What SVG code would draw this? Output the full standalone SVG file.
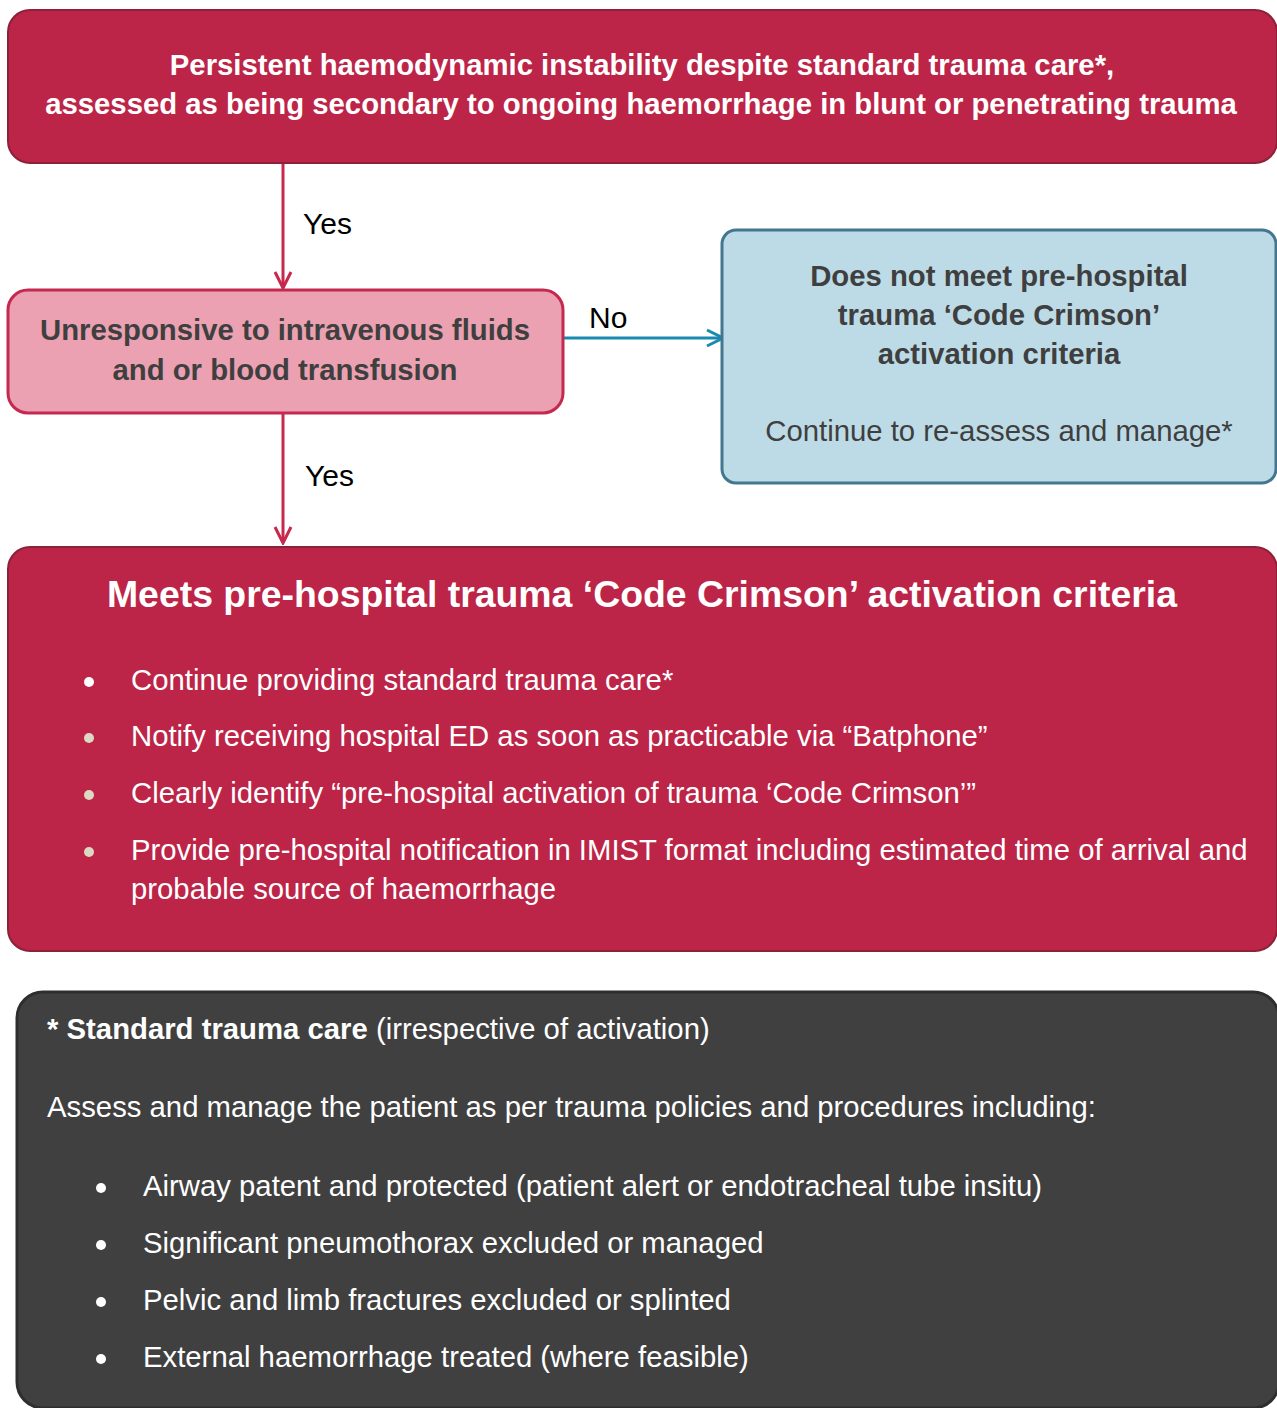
<svg xmlns="http://www.w3.org/2000/svg" width="1277" height="1408" viewBox="0 0 1277 1408">
  <defs>
    <style>
      .t { font-family: "Liberation Sans", Arial, sans-serif; font-size: 29.3px; }
      .b { font-weight: bold; }
      .red { fill: #BC2547; stroke: #8C2139; stroke-width: 2; }
      .pink { fill: #EBA1B1; stroke: #C42A50; stroke-width: 3; }
      .blue { fill: #BDDBE6; stroke: #44778F; stroke-width: 3; }
      .dark { fill: #404040; stroke: #2E2E2E; stroke-width: 3; }
      .w { fill: #FFFFFF; }
      .g { fill: #3F3F3F; }
      .k { fill: #000000; font-size: 30px; }
      .lnr { stroke: #C8284E; stroke-width: 3; fill: none; }
      .lnb { stroke: #1A8AB0; stroke-width: 3; fill: none; }
    </style>
    <marker id="arrR" viewBox="0 0 20 20" refX="18" refY="10" markerWidth="20" markerHeight="20" markerUnits="userSpaceOnUse" orient="auto">
      <path d="M2,2 L18,10 L2,18" fill="none" stroke="#C8284E" stroke-width="3"/>
    </marker>
    <marker id="arrB" viewBox="0 0 20 20" refX="18" refY="10" markerWidth="20" markerHeight="20" markerUnits="userSpaceOnUse" orient="auto">
      <path d="M2,2 L18,10 L2,18" fill="none" stroke="#1A8AB0" stroke-width="3"/>
    </marker>
  </defs>

  <rect width="1277" height="1408" fill="#FFFFFF"/>

  <!-- connectors -->
  <g id="connectors">
    <line class="lnr" x1="283" y1="164" x2="283" y2="288" marker-end="url(#arrR)"/>
    <line class="lnb" x1="564" y1="338" x2="723" y2="338" marker-end="url(#arrB)"/>
    <line class="lnr" x1="283" y1="414" x2="283" y2="543" marker-end="url(#arrR)"/>
    <text class="t k" x="303" y="234">Yes</text>
    <text class="t k" x="589" y="328">No</text>
    <text class="t k" x="305" y="486">Yes</text>
  </g>

  <!-- entry condition -->
  <g id="instability">
    <rect class="red" x="8" y="10" width="1269" height="153" rx="22"/>
    <text class="t b w" x="642" y="75" text-anchor="middle">Persistent haemodynamic instability despite standard trauma care*,</text>
    <text class="t b w" x="641" y="114" text-anchor="middle">assessed as being secondary to ongoing haemorrhage in blunt or penetrating trauma</text>
  </g>

  <!-- fluid response check -->
  <g id="unresponsive">
    <rect class="pink" x="8" y="290" width="555" height="123" rx="20"/>
    <text class="t b g" x="285" y="340" text-anchor="middle">Unresponsive to intravenous fluids</text>
    <text class="t b g" x="285" y="380" text-anchor="middle">and or blood transfusion</text>
  </g>

  <!-- not meeting criteria -->
  <g id="not-met">
    <rect class="blue" x="722" y="230" width="554" height="253" rx="14"/>
    <text class="t b g" x="999" y="286" text-anchor="middle">Does not meet pre-hospital</text>
    <text class="t b g" x="999" y="325" text-anchor="middle">trauma ‘Code Crimson’</text>
    <text class="t b g" x="999" y="364" text-anchor="middle">activation criteria</text>
    <text class="t g" x="999" y="441" text-anchor="middle">Continue to re-assess and manage*</text>
  </g>

  <!-- meeting criteria -->
  <g id="met">
    <rect class="red" x="8" y="547" width="1269" height="404" rx="22"/>
    <text class="t b w" x="642" y="607" text-anchor="middle" style="font-size:37.4px">Meets pre-hospital trauma ‘Code Crimson’ activation criteria</text>
    <circle cx="89" cy="682" r="5" fill="#FFFFFF"/>
    <circle cx="89" cy="738" r="5" fill="#DDD8C4"/>
    <circle cx="89" cy="795" r="5" fill="#DDD8C4"/>
    <circle cx="89" cy="852" r="5" fill="#DDD8C4"/>
    <text class="t w" x="131" y="690">Continue providing standard trauma care*</text>
    <text class="t w" x="131" y="746">Notify receiving hospital ED as soon as practicable via “Batphone”</text>
    <text class="t w" x="131" y="803">Clearly identify “pre-hospital activation of trauma ‘Code Crimson’”</text>
    <text class="t w" x="131" y="860">Provide pre-hospital notification in IMIST format including estimated time of arrival and</text>
    <text class="t w" x="131" y="899">probable source of haemorrhage</text>
  </g>

  <!-- standard trauma care note -->
  <g id="standard-care">
    <rect class="dark" x="17" y="992" width="1262" height="416" rx="26"/>
    <text class="t w" x="47" y="1039"><tspan class="b">* Standard trauma care</tspan> (irrespective of activation)</text>
    <text class="t w" x="47" y="1117">Assess and manage the patient as per trauma policies and procedures including:</text>
    <circle cx="101" cy="1188" r="5" fill="#FFFFFF"/>
    <circle cx="101" cy="1245" r="5" fill="#FFFFFF"/>
    <circle cx="101" cy="1302" r="5" fill="#FFFFFF"/>
    <circle cx="101" cy="1359" r="5" fill="#FFFFFF"/>
    <text class="t w" x="143" y="1196">Airway patent and protected (patient alert or endotracheal tube insitu)</text>
    <text class="t w" x="143" y="1253">Significant pneumothorax excluded or managed</text>
    <text class="t w" x="143" y="1310">Pelvic and limb fractures excluded or splinted</text>
    <text class="t w" x="143" y="1367">External haemorrhage treated (where feasible)</text>
  </g>
</svg>
